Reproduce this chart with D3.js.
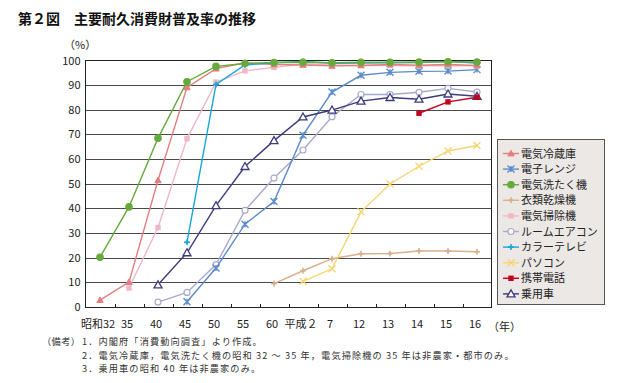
<!DOCTYPE html>
<html><head><meta charset="utf-8">
<script src="https://cdn.jsdelivr.net/npm/d3@7"></script>
<style>
body{margin:0;background:#fff;}
text{font-family:"Noto Sans CJK JP","Liberation Sans",sans-serif;}
</style></head>
<body><svg id="c" width="621" height="383"></svg>
<script>
const categories = ["昭和32","35","40","45","50","55","60","平成２","7","12","13","14","15","16"];
const yTicks = [0,10,20,30,40,50,60,70,80,90,100];
const seriesNames = ["電気冷蔵庫","電子レンジ","電気洗たく機","衣類乾燥機","電気掃除機","ルームエアコン","カラーテレビ","パソコン","携帯電話","乗用車"];
// values per category (null = no data)
const reizouko = [2.8,10.1,51.4,89.1,96.7,99.1,98.4,98.2,97.8,98.0,98.4,98.1,98.4,98.0];
const renji    = [null,null,null,2.1,15.8,33.6,42.8,69.7,87.2,94.0,95.2,95.6,95.7,96.3];
const sentaku  = [20.2,40.6,68.5,91.4,97.6,98.8,99.2,99.3,99.1,99.3,99.3,99.4,99.5,99.4];
const kansou   = [null,null,null,null,null,null,9.5,14.7,19.6,21.6,21.7,22.7,22.7,22.4];
const souji    = [null,7.7,32.2,68.3,91.2,95.8,97.2,98.6,98.2,98.0,98.0,97.8,98.0,97.8];
const aircon   = [null,null,2.0,5.9,17.2,39.2,52.3,63.7,77.2,86.2,86.2,87.1,88.7,87.2];
const colorTv  = [null,null,null,26.3,90.3,98.2,99.1,99.6,98.9,99.0,99.1,99.2,99.6,99.0];
const pasokon  = [null,null,null,null,null,null,null,10.4,15.5,38.6,49.9,57.1,63.3,65.5];
const keitai   = [null,null,null,null,null,null,null,null,null,null,null,78.6,83.2,85.1];
const jouyousha= [null,null,9.0,22.0,41.1,57.0,67.5,77.1,79.9,83.5,85.0,84.3,86.4,85.5];
const notesText = ["1．内閣府「消費動向調査」より作成。",
  "2．電気冷蔵庫，電気洗たく機の昭和 32 ～ 35 年，電気掃除機の 35 年は非農家・都市のみ。",
  "3．乗用車の昭和 40 年は非農家のみ。"];

const seriesData = [reizouko,renji,sentaku,kansou,souji,aircon,colorTv,pasokon,keitai,jouyousha];
const colors = ["#e47d80","#5a8ccb","#66aa3c","#d8b08c","#f2b6c8","#a9a9cf","#1aa6d6","#f6d672","#c4001c","#3b3b7e"];
const markers = ["triF","star","circF","plus","sqF","circO","plus","x","sqF","triO"];

const svg = d3.select("#c");
const L=85.5,R=491.5,T=60.5,B=307;
const x = d3.scaleBand().domain(categories).range([L,R]);
const y = d3.scaleLinear().domain([0,100]).range([B,T]);

// title
svg.append("text").attr("x",18).attr("y",24).attr("font-size",14).attr("font-weight","bold").attr("fill","#111").text("第２図　主要耐久消費財普及率の推移");
svg.append("text").attr("x",64).attr("y",49).attr("font-size",11).attr("fill","#222").text("（%）");

// grid
svg.append("g").selectAll("line").data(yTicks.filter(d=>d>0&&d<100)).join("line")
 .attr("x1",L).attr("x2",R).attr("y1",d=>Math.round(y(d))+0.5).attr("y2",d=>Math.round(y(d))+0.5)
 .attr("stroke","#4a4a4a").attr("stroke-width",1);
// frame
svg.append("rect").attr("x",L).attr("y",T).attr("width",R-L).attr("height",B-T+0.5).attr("fill","none").attr("stroke","#222").attr("stroke-width",1);

// y axis labels
const yAxis = d3.axisLeft(y).tickValues(yTicks).tickSize(0).tickPadding(5);
const gy = svg.append("g").attr("transform",`translate(${L},0)`).call(yAxis);
gy.select(".domain").remove();
gy.selectAll("text").attr("font-size",11).attr("fill","#222").attr("font-family","Liberation Sans, Arial, sans-serif");

// x axis
const xAxis = d3.axisBottom(x).tickSize(0).tickPadding(13);
const gx = svg.append("g").attr("transform",`translate(-2,${B})`).call(xAxis);
gx.select(".domain").remove();
gx.selectAll("text").attr("font-size",11).attr("fill","#222");
// tick marks at band boundaries (inward)
svg.append("g").selectAll("line").data(categories.slice(1)).join("line")
 .attr("x1",d=>Math.round(x(d))+0.5).attr("x2",d=>Math.round(x(d))+0.5).attr("y1",B).attr("y2",B-3)
 .attr("stroke","#222");
svg.append("text").attr("x",488).attr("y",B+24).attr("font-size",11).attr("fill","#222").text("（年）");

function marker(g,type,color,cx,cy){
  if(type==="triF"||type==="triO"){
    const s = type==="triF"?3.2:4;
    g.append("path").attr("d",`M${cx},${cy-s}L${cx+s},${cy+s*0.75}L${cx-s},${cy+s*0.75}Z`)
     .attr("fill",type==="triF"?color:"#fff").attr("stroke",color).attr("stroke-width",type==="triF"?1:1.3);
  } else if(type==="circF"||type==="circO"){
    g.append("circle").attr("cx",cx).attr("cy",cy).attr("r",type==="circF"?3.2:3)
     .attr("fill",type==="circF"?color:"#fff").attr("stroke",color).attr("stroke-width",1.2);
  } else if(type==="sqF"){
    g.append("rect").attr("x",cx-2.7).attr("y",cy-2.7).attr("width",5.4).attr("height",5.4).attr("fill",color);
  } else if(type==="plus"){
    g.append("path").attr("d",`M${cx-3},${cy}H${cx+3}M${cx},${cy-3}V${cy+3}`).attr("stroke",color).attr("stroke-width",1.5);
    g.append("circle").attr("cx",cx).attr("cy",cy).attr("r",1.6).attr("fill",color);
  } else if(type==="x"){
    g.append("path").attr("d",`M${cx-3.5},${cy-3.5}L${cx+3.5},${cy+3.5}M${cx+3.5},${cy-3.5}L${cx-3.5},${cy+3.5}`).attr("stroke",color).attr("stroke-width",1.4);
  } else if(type==="star"){
    g.append("path").attr("d",`M${cx-3.5},${cy-3.5}L${cx+3.5},${cy+3.5}M${cx+3.5},${cy-3.5}L${cx-3.5},${cy+3.5}M${cx},${cy-3}V${cy+3}`).attr("stroke",color).attr("stroke-width",1.4);
  }
}

const line = d3.line().defined(d=>d.v!=null).x(d=>x(d.c)+x.bandwidth()/2).y(d=>y(d.v));
const order = [3,7,5,1,9,8,4,0,6,2];
order.forEach(i=>{
  const pts = categories.map((c,j)=>({c,v:seriesData[i][j]}));
  const g = svg.append("g");
  g.append("path").attr("d",line(pts)).attr("fill","none").attr("stroke",colors[i]).attr("stroke-width",1.4);
  pts.filter(d=>d.v!=null).forEach(d=>marker(g,markers[i],colors[i],x(d.c)+x.bandwidth()/2,y(d.v)));
});

// legend
const lg = svg.append("g");
lg.append("rect").attr("x",497.5).attr("y",139.5).attr("width",107).attr("height",165).attr("fill","#ece8e6").attr("stroke","#555").attr("stroke-width",1);
seriesNames.forEach((n,i)=>{
  const ly = 153.5 + i*15.6;
  lg.append("line").attr("x1",503).attr("x2",519).attr("y1",ly).attr("y2",ly).attr("stroke",colors[i]).attr("stroke-width",1.4);
  marker(lg,markers[i],colors[i],511,ly);
  lg.append("text").attr("x",521).attr("y",ly+4).attr("font-size",11).attr("fill","#222").text(n);
});

// notes
const nf = "Liberation Serif, Noto Sans CJK JP, serif";
svg.append("text").attr("x",42).attr("y",345).attr("font-size",9.2).attr("letter-spacing",0.4).attr("font-family",nf).attr("fill","#333").text("（備考）");
notesText.forEach((t,i)=>{
  svg.append("text").attr("x",82).attr("y",345+i*13.5).attr("font-size",9.2).attr("letter-spacing",1.1).attr("font-family",nf).attr("fill","#333").text(t);
});
</script></body></html>
